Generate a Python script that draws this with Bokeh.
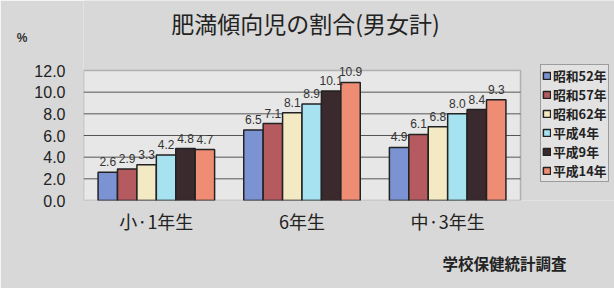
from bokeh.plotting import figure
from bokeh.models import (ColumnDataSource, Range1d, LabelSet, Label, Legend, LegendItem, LinearAxis,
                          FixedTicker, NumeralTickFormatter, Title, BoxAnnotation)
from bokeh.core.properties import value
from bokeh.transform import dodge
from bokeh.embed import file_html
from bokeh.resources import INLINE

categories = ["小·1年生", "6年生", "中·3年生"]
series_names = ["昭和52年", "昭和57年", "昭和62年", "平成4年", "平成9年", "平成14年"]
s52 = [2.6, 6.5, 4.9]
s57 = [2.9, 7.1, 6.1]
s62 = [3.3, 8.1, 6.8]
h4 = [4.2, 8.9, 8.0]
h9 = [4.8, 10.1, 8.4]
h14 = [4.7, 10.9, 9.3]
y_ticks = [0, 2, 4, 6, 8, 10, 12]
grid_ticks = [2, 4, 6, 8, 10]
y_max = 12
title_text = "肥満傾向児の割合(男女計)"
unit_text = "%"
source_text = "学校保健統計調査"

series = [s52, s57, s62, h4, h9, h14]
colors = ["#7b93d3", "#b55a5e", "#f3eac4", "#a6e2f0", "#3b2a2d", "#ef8c74"]

n = len(categories)
pos = [i + 0.5 for i in range(n)]
data = {"pos": pos}
for i, s in enumerate(series):
    data[f"s{i}"] = s
    data[f"t{i}"] = [f"{v:.1f}" for v in s]
src = ColumnDataSource(data)

CJK = "Noto Sans CJK JP"
SANS = "Liberation Sans"
BG = "#d8d8d8"

# frame: x 83..614, y 0..200 ; plot box 0..3 x 0..12
px_x = 437 / n
px_y = 130 / y_max
p = figure(width=614, height=288,
           x_range=Range1d(0, 531 / px_x), y_range=Range1d(0, 200 / px_y),
           output_backend="svg", toolbar_location=None,
           min_border_left=83, min_border_right=0, min_border_top=0, min_border_bottom=88)
p.border_fill_color = BG
p.background_fill_color = BG
p.outline_line_color = None
p.xgrid.grid_line_color = None
p.ygrid.grid_line_color = None

p.add_layout(BoxAnnotation(left=0, right=n, bottom=0, top=y_max,
                           fill_color="#e7e7e7", fill_alpha=1.0, line_color=None, level="image"))
p.segment(x0=[0] * len(grid_ticks), x1=[n] * len(grid_ticks), y0=grid_ticks, y1=grid_ticks,
          line_color="#555555", line_width=1)
p.add_layout(BoxAnnotation(left=0, right=n, bottom=0, top=y_max,
                           fill_alpha=0.0, line_color="#444444", line_width=1.5, level="overlay"))

p.yaxis.ticker = FixedTicker(ticks=y_ticks)
p.yaxis.formatter = NumeralTickFormatter(format="0.0")
p.yaxis.axis_line_color = None
p.yaxis.major_tick_line_color = None
p.yaxis.minor_tick_line_color = None
p.yaxis.major_tick_out = 0
p.yaxis.major_label_text_font = SANS
p.yaxis.major_label_text_font_size = "16px"
p.yaxis.major_label_text_color = "#222222"
p.yaxis.major_label_standoff = 18

unit_axis = LinearAxis(ticker=FixedTicker(ticks=[15]), major_label_overrides={15: unit_text},
                       axis_line_color=None, major_tick_line_color=None, minor_tick_line_color=None,
                       major_tick_out=0, major_label_standoff=4,
                       major_label_text_font=SANS, major_label_text_font_size="12px",
                       major_label_text_font_style="bold", major_label_text_color="#333333")
p.add_layout(unit_axis, "left")

p.xaxis.ticker = FixedTicker(ticks=pos)
p.xaxis.major_label_overrides = {x: c for x, c in zip(pos, categories)}
p.xaxis.axis_line_color = None
p.xaxis.major_tick_line_color = None
p.xaxis.minor_tick_line_color = None
p.xaxis.major_tick_out = 0
p.xaxis.major_label_text_font = CJK
p.xaxis.major_label_text_font_size = "18px"
p.xaxis.major_label_text_color = "#222222"
p.xaxis.major_label_standoff = 7

bw = 0.8 / 6
items = []
for i, name in enumerate(series_names):
    off = -0.4 + bw * (i + 0.5)
    r = p.vbar(x=dodge("pos", off), top=f"s{i}", width=bw, source=src,
               fill_color=colors[i], line_color="#222222", line_width=1.5)
    items.append(LegendItem(label=name, renderers=[r]))
    p.add_layout(LabelSet(x=dodge("pos", off), y=f"s{i}", text=f"t{i}", source=src,
                          text_align="center", text_baseline="bottom", y_offset=6,
                          text_font=value(SANS), text_font_size="12px", text_color="#333333"))

legend = Legend(items=items, location=(457, 18), orientation="vertical", margin=0,
                glyph_width=9, glyph_height=9, label_standoff=2, padding=1, spacing=0,
                label_height=15, label_text_font=CJK, label_text_font_size="12.8px",
                label_text_font_style="bold", label_text_color="#222222",
                border_line_color="#555555", border_line_width=1,
                background_fill_color="#e2e2e2", background_fill_alpha=1.0)
p.add_layout(legend, "center")

p.add_layout(Label(x=(305 - 83) / px_x, y=(200 - 22) / px_y, text=title_text,
                   text_align="center", text_baseline="middle", text_font=CJK,
                   text_font_size="23px", text_color="#222222"))

p.add_layout(Title(text=source_text, align="right", offset=48, standoff=27, text_font=CJK,
                   text_font_size="15.5px", text_font_style="bold", text_color="#222222"), "below")

open("out.html", "w").write(file_html(p, INLINE))
